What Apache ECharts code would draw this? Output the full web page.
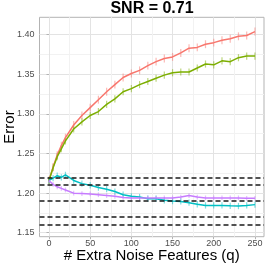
<!DOCTYPE html>
<html>
<head>
<meta charset="utf-8">
<script src="https://cdn.jsdelivr.net/npm/echarts@6/dist/echarts.min.js"></script>
<style>html,body{margin:0;padding:0;background:#fff}#c{width:266px;height:266px}</style>
</head>
<body>
<div id="c"></div>
<script>
const xs = [0,5,10,15,20,30,40,50,60,70,80,90,100,110,120,130,140,150,160,170,180,190,200,210,220,230,240,250];
const red = [1.216,1.233,1.248,1.260,1.270,1.286,1.298,1.308,1.318,1.328,1.337,1.346,1.351,1.355,1.361,1.366,1.370,1.372,1.377,1.383,1.384,1.388,1.390,1.393,1.395,1.398,1.399,1.404];
const green = [1.216,1.232,1.246,1.256,1.266,1.281,1.290,1.298,1.303,1.312,1.319,1.328,1.332,1.337,1.341,1.345,1.349,1.352,1.353,1.353,1.358,1.363,1.362,1.367,1.366,1.371,1.373,1.373];
const cyan = [1.216,1.219,1.222,1.220,1.223,1.216,1.212,1.210,1.207,1.205,1.202,1.198,1.196,1.195,1.193,1.193,1.191,1.190,1.1895,1.188,1.186,1.1845,1.1845,1.1845,1.184,1.1837,1.1845,1.1855];
const purple = [1.216,1.211,1.208,1.206,1.204,1.200,1.1995,1.199,1.198,1.197,1.196,1.1945,1.194,1.194,1.194,1.1938,1.194,1.194,1.195,1.197,1.195,1.194,1.194,1.194,1.194,1.194,1.1935,1.1935];
const errRed = 0.005, errGreen = 0.0045, errCyan = 0.004, errPurple = 0.003;
const refLevels = [1.2163, 1.2055, 1.1912, 1.1732, 1.1573];
const yTicks = [1.15, 1.20, 1.25, 1.30, 1.35, 1.40];
const yMinor = [1.175, 1.225, 1.275, 1.325, 1.375, 1.425];
const xTicks = [0, 50, 100, 150, 200, 250];
const xMinor = [25, 75, 125, 175, 225];

const colors = ['#F8766D', '#7CAE00', '#00BFC4', '#C77CFF'];
const FONT = 'Liberation Sans, Arial, sans-serif';
const seriesVals = [red, green, cyan, purple];
const errs = [errRed, errGreen, errCyan, errPurple];

const chart = echarts.init(document.getElementById('c'), null, {renderer: 'canvas'});

const series = [];
seriesVals.forEach((vals, i) => {
  series.push({
    type: 'custom',
    xAxisIndex: 0, yAxisIndex: 0,
    z: 2,
    data: xs.map((x, j) => [x, vals[j] - errs[i], vals[j] + errs[i]]),
    renderItem: (params, api) => {
      const p1 = api.coord([api.value(0), api.value(1)]);
      const p2 = api.coord([api.value(0), api.value(2)]);
      return {type: 'line', shape: {x1: p1[0], y1: p1[1], x2: p2[0], y2: p2[1]},
        style: {stroke: colors[i], lineWidth: 1.2, opacity: 0.5}};
    },
    silent: true
  });
});
seriesVals.forEach((vals, i) => {
  series.push({
    type: 'line',
    xAxisIndex: 0, yAxisIndex: 0,
    z: 3,
    data: xs.map((x, j) => [x, vals[j]]),
    showSymbol: false,
    lineStyle: {color: colors[i], width: 1.5},
    animation: false,
    markLine: i === 0 ? {
      silent: true, symbol: 'none', animation: false,
      label: {show: false},
      lineStyle: {color: '#1a1a1a', type: [5, 3], width: 1.5},
      data: refLevels.map(v => ({yAxis: v}))
    } : undefined
  });
});

const yMin = 1.145, yMax = 1.422, xMin = -11.5, xMax = 261;

chart.setOption({
  animation: false,
  title: {
    text: 'SNR = 0.71', left: 152, top: 1, padding: 0, textAlign: 'center',
    textStyle: {fontFamily: FONT, fontWeight: 'bold', fontSize: 16, color: '#000'}
  },
  grid: {left: 39.5, right: 2, top: 17.3, bottom: 29.3, containLabel: false, outerBoundsMode: 'none',
    show: true, borderColor: '#b3b3b3', borderWidth: 1, backgroundColor: '#fff'},
  xAxis: [{
    type: 'value', min: xMin, max: xMax,
    name: '# Extra Noise Features (q)', nameLocation: 'middle', nameGap: 12, nameMoveOverlap: false,
    nameTextStyle: {fontFamily: FONT, fontSize: 15, color: '#000'},
    axisLine: {show: false},
    axisTick: {show: true, length: 2.5, lineStyle: {color: '#b3b3b3'}, customValues: xTicks},
    axisLabel: {fontFamily: FONT, fontSize: 9, color: '#4d4d4d', margin: 2.5, customValues: xTicks},
    splitLine: {show: true, lineStyle: {color: '#e3e3e3', width: 1}}
  }, {
    type: 'value', min: xMin, max: xMax, position: 'bottom',
    axisLine: {show: false}, axisLabel: {show: false},
    axisTick: {show: false, customValues: xMinor},
    splitLine: {show: true, lineStyle: {color: '#f2f2f2', width: 1}}
  }],
  yAxis: [{
    type: 'value', min: yMin, max: yMax,
    name: 'Error', nameLocation: 'middle', nameGap: 22.5, nameRotate: 90, nameMoveOverlap: false,
    nameTextStyle: {fontFamily: FONT, fontSize: 15, color: '#000'},
    axisLine: {show: false},
    axisTick: {show: true, length: 2.5, lineStyle: {color: '#b3b3b3'}, customValues: yTicks},
    axisLabel: {fontFamily: FONT, fontSize: 9, color: '#4d4d4d', margin: 5, customValues: yTicks,
      formatter: v => v.toFixed(2)},
    splitLine: {show: true, lineStyle: {color: '#e3e3e3', width: 1}}
  }, {
    type: 'value', min: yMin, max: yMax, position: 'left',
    axisLine: {show: false}, axisLabel: {show: false},
    axisTick: {show: false, customValues: yMinor},
    splitLine: {show: true, lineStyle: {color: '#f2f2f2', width: 1}}
  }],
  series: series
});
</script>
</body>
</html>
